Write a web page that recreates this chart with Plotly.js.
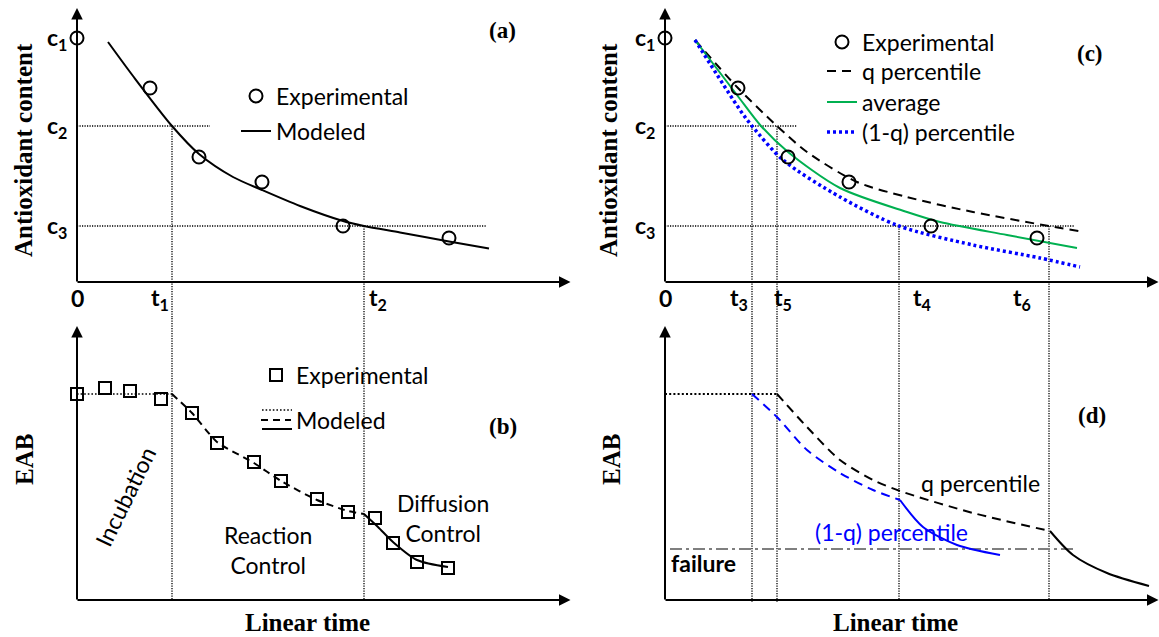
<!DOCTYPE html>
<html>
<head>
<meta charset="utf-8">
<script src="https://cdn.plot.ly/plotly-3.0.1.min.js"></script>
<style>html,body{margin:0;padding:0;background:#fff}</style>
</head>
<body>
<div id="chart" style="width:1159px;height:637px"></div>
<script>
// ================= DATA (arbitrary schematic units) =================
// ---- Panel (a): antioxidant content vs time ----
const expA_t = [0, 7.3, 12.2, 18.5, 26.6, 37.2];
const expA_c = [24.4, 19.4, 12.5, 10.0, 5.6, 4.4];
const modA_t = [3.1, 5.6, 9.5, 12.2, 15.6, 18.5, 22.3, 26.6, 28.7, 32.3, 37.2, 41.2];
const modA_c = [24.0, 20.6, 15.6, 12.8, 10.5, 9.2, 7.6, 6.1, 5.6, 4.95, 4.05, 3.35];
const cLevels = [24.4, 15.6, 5.6];                 // c1, c2, c3
const cLabels = ['c<sub>1</sub>', 'c<sub>2</sub>', 'c<sub>3</sub>'];
const guideEndA = [13.3, 41.0];                    // extent of c2 / c3 guides in (a)
const tTimesA = [9.5, 28.7];                       // t1, t2
const tLabelsA = ['0', 't<sub>1</sub>', 't<sub>2</sub>'];

// ---- Panel (b): EAB vs time ----
const expB_t = [0, 2.8, 5.3, 8.4, 11.5, 14.0, 17.7, 20.4, 24.0, 27.1, 29.8, 31.6, 34.0, 37.1];
const expB_e = [20.6, 21.2, 20.9, 20.1, 18.7, 15.7, 13.8, 11.9, 10.1, 8.8, 8.2, 5.7, 3.8, 3.2];
const incubB_t = [0, 9.5];
const incubB_e = [20.6, 20.6];
const reactB_t = [9.5, 11.5, 14.0, 17.7, 20.4, 24.0, 27.1, 28.7];
const reactB_e = [20.6, 18.7, 15.8, 13.7, 11.9, 10.0, 8.9, 8.6];
const diffB_t = [28.7, 30.1, 31.6, 34.0, 37.1];
const diffB_e = [8.6, 7.3, 5.8, 4.0, 3.3];

// ---- Panel (c): antioxidant content, percentiles ----
const expC_t = [0, 7.3, 12.3, 18.4, 26.6, 37.2];
const expC_c = [24.4, 19.4, 12.5, 10.0, 5.6, 4.4];
const qC_t = [3.0, 7.2, 11.2, 14.2, 19.2, 24.2, 30.8, 38.4, 41.4];
const qC_c = [24.2, 19.5, 15.6, 13.0, 10.0, 8.5, 7.0, 5.6, 5.1];
const avgC_t = [3.0, 7.2, 9.6, 12.3, 17.5, 24.2, 27.5, 34.2, 41.2];
const avgC_c = [24.2, 18.7, 15.6, 13.0, 9.4, 7.0, 6.0, 4.7, 3.4];
const lowC_t = [3.0, 7.5, 8.7, 11.8, 17.5, 23.4, 30.8, 37.5, 41.5];
const lowC_c = [24.2, 17.2, 15.6, 12.2, 8.5, 5.6, 3.7, 2.4, 1.5];
const guideEndC = [13.2, 41.0];
const tTimesC = [8.7, 11.2, 23.4, 38.4];           // t3, t5, t4, t6
const tLabelsC = ['0', 't<sub>3</sub>', 't<sub>5</sub>', 't<sub>4</sub>', 't<sub>6</sub>'];

// ---- Panel (d): EAB, percentiles ----
const eabStart = 20.6;
const qD_t = [11.2, 14.2, 17.5, 20.8, 23.5, 30.8, 38.5];
const qD_e = [20.6, 17.3, 14.0, 12.0, 10.9, 8.7, 6.9];
const qDiffD_t = [38.5, 40.8, 44.2, 48.4];
const qDiffD_e = [6.9, 4.5, 2.7, 1.4];
const lowD_t = [8.7, 11.2, 14.2, 17.5, 20.8, 23.5];
const lowD_e = [20.6, 18.3, 15.0, 12.7, 11.0, 10.0];
const lowDiffD_t = [23.5, 25.8, 29.2, 33.5];
const lowDiffD_e = [10.0, 7.3, 5.5, 4.5];
const failureLevel = 5.1;
const failureSpan = [0.5, 41.2];

// ================= RANGES / STYLES =================
const XL = [-7.7, 50.3], XR = [-8.5, 49.4];
const YT = [-3.6, 28.2], YB = [-3.7, 28.2];
const XTIP = 49.35, YTIP = 27.4;
const BLACK = '#000', GREEN = '#00B050', BLUE = '#0000FF', GRAY = '#7F7F7F';
const SANS = 'Lato, "Open Sans", sans-serif';
const SERIF = '"Liberation Serif", "Times New Roman", serif';
const GUIDE = {color: '#000', width: 1.3, dash: '1.2px,1.3px'};

const traces = [];
function ln(x, y, xa, ya, line, extra) {
  traces.push(Object.assign({type: 'scatter', mode: 'lines', x: x, y: y, xaxis: xa, yaxis: ya,
    line: line, hoverinfo: 'skip', showlegend: false}, extra || {}));
}
function pts(x, y, xa, ya, symbol, size, extra) {
  traces.push(Object.assign({type: 'scatter', mode: 'markers', x: x, y: y, xaxis: xa, yaxis: ya,
    marker: {symbol: symbol, size: size, color: BLACK, line: {width: 2, color: BLACK}},
    hoverinfo: 'skip', cliponaxis: false}, extra || {}));
}

// ---------- panel (a) ----------
ln([0, guideEndA[0]], [cLevels[1], cLevels[1]], 'x', 'y', GUIDE);
ln([0, guideEndA[1]], [cLevels[2], cLevels[2]], 'x', 'y', GUIDE);
ln([tTimesA[0], tTimesA[0]], [cLevels[1], YT[0]], 'x', 'y', GUIDE);
ln([tTimesA[1], tTimesA[1]], [cLevels[2], YT[0]], 'x', 'y', GUIDE);
pts(expA_t, expA_c, 'x', 'y', 'circle-open', 13, {name: 'Experimental', legend: 'legend'});
ln(modA_t, modA_c, 'x', 'y', {color: BLACK, width: 2, shape: 'spline', smoothing: 0.8},
   {name: 'Modeled', showlegend: true, legend: 'legend2'});

// ---------- panel (b) ----------
ln([tTimesA[0], tTimesA[0]], [YB[1], 0], 'x3', 'y3', GUIDE);
ln([tTimesA[1], tTimesA[1]], [YB[1], 0], 'x3', 'y3', GUIDE);
ln(incubB_t, incubB_e, 'x3', 'y3', {color: BLACK, width: 1.6, dash: '1.6px,2px'});
ln(reactB_t, reactB_e, 'x3', 'y3', {color: BLACK, width: 2, dash: '7px,5px', shape: 'spline', smoothing: 0.6},
   {name: 'Modeled', showlegend: true, legend: 'legend4'});
ln(diffB_t, diffB_e, 'x3', 'y3', {color: BLACK, width: 2, shape: 'spline', smoothing: 0.8});
pts(expB_t, expB_e, 'x3', 'y3', 'square-open', 12, {name: 'Experimental', legend: 'legend3'});

// ---------- panel (c) ----------
ln([0, guideEndC[0]], [cLevels[1], cLevels[1]], 'x2', 'y2', GUIDE);
ln([0, guideEndC[1]], [cLevels[2], cLevels[2]], 'x2', 'y2', GUIDE);
[cLevels[1], cLevels[1], cLevels[2], cLevels[2]].forEach(function (c0, i) {
  ln([tTimesC[i], tTimesC[i]], [c0, YT[0]], 'x2', 'y2', GUIDE);
});
ln(qC_t, qC_c, 'x2', 'y2', {color: BLACK, width: 2, dash: '9px,6px', shape: 'spline', smoothing: 0.8},
   {name: 'q percentile', showlegend: true, legend: 'legend6'});
ln(avgC_t, avgC_c, 'x2', 'y2', {color: GREEN, width: 2, shape: 'spline', smoothing: 0.8},
   {name: 'average', showlegend: true, legend: 'legend7'});
ln(lowC_t, lowC_c, 'x2', 'y2', {color: BLUE, width: 3.5, dash: '3px,3px', shape: 'spline', smoothing: 0.8},
   {name: '(1-q) percentile', showlegend: true, legend: 'legend8'});
pts(expC_t, expC_c, 'x2', 'y2', 'circle-open', 13, {name: 'Experimental', legend: 'legend5'});

// ---------- panel (d) ----------
tTimesC.forEach(function (t, i) {
  ln([t, t], [YB[1], i < 2 ? -0.3 : 0], 'x4', 'y4', GUIDE);
});
ln([0, qD_t[0]], [eabStart, eabStart], 'x4', 'y4', {color: BLACK, width: 2, dash: '2px,2.2px'});
ln([failureSpan[0], failureSpan[1]], [failureLevel, failureLevel], 'x4', 'y4',
   {color: GRAY, width: 2, dash: '12px,4px,3px,4px'});
ln(qD_t, qD_e, 'x4', 'y4', {color: BLACK, width: 2, dash: '9px,6px', shape: 'spline', smoothing: 0.8});
ln(qDiffD_t, qDiffD_e, 'x4', 'y4', {color: BLACK, width: 2, shape: 'spline', smoothing: 0.8});
ln(lowD_t, lowD_e, 'x4', 'y4', {color: BLUE, width: 2, dash: '9px,6px', shape: 'spline', smoothing: 0.8});
ln(lowDiffD_t, lowDiffD_e, 'x4', 'y4', {color: BLUE, width: 2, shape: 'spline', smoothing: 0.8});

// ================= ANNOTATIONS =================
const ann = [];
function txt(x, y, xr, yr, text, font, extra) {
  ann.push(Object.assign({x: x, y: y, xref: xr, yref: yr, text: text, showarrow: false, font: font}, extra || {}));
}
function arrow(x, y, ax, ay, xr, yr) {
  ann.push({x: x, y: y, ax: ax, ay: ay, xref: xr, yref: yr, axref: xr, ayref: yr, text: '',
    showarrow: true, arrowhead: 2, arrowsize: 1.15, arrowwidth: 2, arrowcolor: BLACK, standoff: 0, startstandoff: 0});
}
const tick = {family: SANS, size: 23, color: BLACK};
const title = {family: SERIF, size: 25, color: BLACK};
const label = {family: SERIF, size: 23, color: BLACK};
const note = {family: SANS, size: 23, color: BLACK};

[['x', 'y'], ['x2', 'y2'], ['x3', 'y3'], ['x4', 'y4']].forEach(function (p) {
  arrow(XTIP, 0, -0.1, 0, p[0], p[1]);
  arrow(0, YTIP, 0, -0.1, p[0], p[1]);
});

// (a)
cLevels.forEach(function (c, i) { txt(-2.0, c, 'x', 'y', '<b>' + cLabels[i] + '</b>', tick); });
[0].concat(tTimesA).forEach(function (t, i) {
  txt(t + [0, -1.2, 1.4][i], -1.6, 'x', 'y', '<b>' + tLabelsA[i] + '</b>', tick);
});
txt(42.5, 25.2, 'x', 'y', '<b>(a)</b>', label);
txt(-5.4, 13.2, 'x', 'y', '<b>Antioxidant content</b>', title, {textangle: -90});

// (b)
txt(42.6, 17.3, 'x3', 'y3', '<b>(b)</b>', label);
txt(4.8, 10.3, 'x3', 'y3', 'Incubation', note, {textangle: -64});
txt(19.1, 5.0, 'x3', 'y3', 'Reaction<br>Control', note);
txt(36.6, 8.2, 'x3', 'y3', 'Diffusion<br>Control', note);
txt(23.0, -2.2, 'x3', 'y3', '<b>Linear time</b>', title);
txt(-5.2, 14.0, 'x3', 'y3', '<b>EAB</b>', title, {textangle: -90});

// (c)
cLevels.forEach(function (c, i) { txt(-2.0, c, 'x2', 'y2', '<b>' + cLabels[i] + '</b>', tick); });
[0].concat(tTimesC).forEach(function (t, i) {
  txt(t + [0, -1.3, 0.6, 2.3, -2.7][i], -1.6, 'x2', 'y2', '<b>' + tLabelsC[i] + '</b>', tick);
});
txt(42.5, 22.9, 'x2', 'y2', '<b>(c)</b>', label);
txt(-5.7, 13.2, 'x2', 'y2', '<b>Antioxidant content</b>', title, {textangle: -90});

// (d)
txt(42.7, 18.4, 'x4', 'y4', '<b>(d)</b>', label);
txt(0.4, 3.7, 'x4', 'y4', '<b>failure</b>', tick, {xanchor: 'left'});
txt(31.5, 11.7, 'x4', 'y4', 'q percentile', note);
txt(22.6, 6.8, 'x4', 'y4', '(1-q) percentile', {family: SANS, size: 23, color: BLUE});
txt(23.0, -2.2, 'x4', 'y4', '<b>Linear time</b>', title);
txt(-5.3, 14.0, 'x4', 'y4', '<b>EAB</b>', title, {textangle: -90});

// ================= LAYOUT =================
const W = 1159, H = 637;
const leftDom = [0, 580 / W], rightDom = [580 / W, 1];
const topDom = [1 - 318 / H, 1], botDom = [0, 1 - 318 / H];
function ax(dom, rng, anchor) {
  return {domain: dom, range: rng, anchor: anchor, visible: false, fixedrange: true};
}
function leg(px, py) {   // one legend box per entry, placed in pixels
  return {x: px / W, y: 1 - py / H, xanchor: 'left', yanchor: 'middle', bgcolor: 'rgba(0,0,0,0)',
    borderwidth: 0, font: {family: SANS, size: 23, color: BLACK}, itemclick: false, itemdoubleclick: false};
}
// extra strokes of the three-style "Modeled" glyph in legend (b)
function glyph(y, dash) {
  return {type: 'line', xref: 'paper', yref: 'paper', x0: 262 / W, x1: 292 / W, y0: 1 - y / H, y1: 1 - y / H,
    line: {color: BLACK, width: dash ? 1.6 : 2, dash: dash || 'solid'}};
}

const layout = {
  width: W, height: H, margin: {l: 0, r: 0, t: 0, b: 0},
  paper_bgcolor: '#fff', plot_bgcolor: 'rgba(0,0,0,0)', showlegend: true,
  xaxis: ax(leftDom, XL, 'y'), yaxis: ax(topDom, YT, 'x'),
  xaxis2: ax(rightDom, XR, 'y2'), yaxis2: ax(topDom, YT, 'x2'),
  xaxis3: ax(leftDom, XL, 'y3'), yaxis3: ax(botDom, YB, 'x3'),
  xaxis4: ax(rightDom, XR, 'y4'), yaxis4: ax(botDom, YB, 'x4'),
  legend: leg(236, 96), legend2: leg(236, 131),
  legend3: leg(256, 375), legend4: leg(256, 420),
  legend5: leg(822, 42), legend6: leg(822, 71), legend7: leg(822, 102), legend8: leg(822, 132),
  annotations: ann,
  shapes: [glyph(410, '1.6px,2px'), glyph(429)]
};

Plotly.newPlot('chart', traces, layout, {staticPlot: true, displayModeBar: false});
</script>
</body>
</html>
